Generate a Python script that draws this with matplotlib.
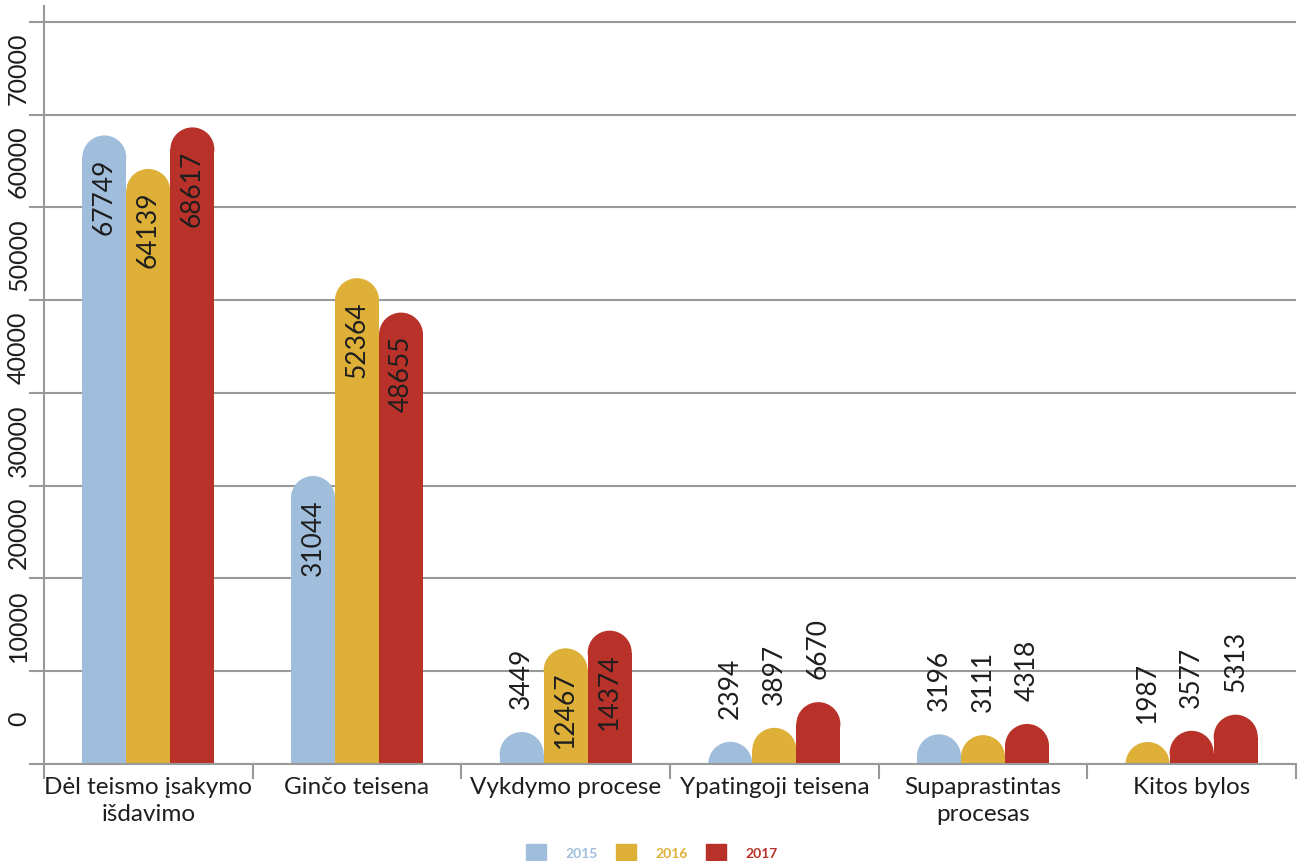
"""
Bylų skaičius pagal kategoriją, 2015-2017. Stulpeliai su suapvalintomis viršūnėmis.
"""
import matplotlib
matplotlib.use("Agg")
import matplotlib.pyplot as plt
from matplotlib.patches import Rectangle, Ellipse, Patch

plt.rcParams["font.family"] = ["Lato", "DejaVu Sans"]

BLUE, YELLOW, RED = "#A0BEDC", "#DEB038", "#B83229"
GRID = "#999999"
TXT = "#1e1e1e"

categories = ["Dėl teismo įsakymo\nišdavimo", "Ginčo teisena", "Vykdymo procese",
              "Ypatingoji teisena", "Supaprastintas\nprocesas", "Kitos bylos"]
years = ["2015", "2016", "2017"]
v2015 = [67749, 31044, 3449, 2394, 3196, 1987]
v2016 = [64139, 52364, 12467, 3897, 3111, 3577]
v2017 = [68617, 48655, 14374, 6670, 4318, 5313]
series = [v2015, v2016, v2017]
year_colors = [BLUE, YELLOW, RED]
yticks = list(range(0, 80001, 10000))

W, H = 1301, 862
fig = plt.figure(figsize=(W/100, H/100), dpi=100)
ax = fig.add_axes([44/W, (H-765)/H, (1296-44)/W, (765-7)/H])
ax.set_xlim(0, len(categories))
ax.set_ylim(0, 81700)

# --- grid + axes ---
ax.set_yticks(yticks)
ax.set_yticklabels([])
ax.set_yticks([t + 5000 for t in yticks[:-1]], minor=True)
ax.set_yticklabels([str(t) for t in yticks[:-1]], minor=True, rotation=90,
                   va="center", ha="right", fontsize=18, color=TXT)
ax.grid(axis="y", color=GRID, lw=1.5, zorder=0)
ax.set_axisbelow(True)
ax.tick_params(axis="y", which="major", length=11, width=1.5, color=GRID)
ax.tick_params(axis="y", which="minor", length=0, pad=10)

ax.set_xticks(range(len(categories) + 1))
ax.set_xticklabels([])
ax.set_xticks([i + 0.5 for i in range(len(categories))], minor=True)
ax.set_xticklabels(categories, minor=True, fontsize=17.5, color=TXT, linespacing=1.3)
ax.tick_params(axis="x", which="major", length=11, width=1.5, color=GRID)
ax.tick_params(axis="x", which="minor", length=0, pad=9)

for s in ["top", "right"]:
    ax.spines[s].set_visible(False)
for s in ["left", "bottom"]:
    ax.spines[s].set_color(GRID)
    ax.spines[s].set_linewidth(1.5)
ax.spines["left"].set_zorder(5)
ax.spines["bottom"].set_zorder(5)

# --- bars with rounded caps ---
bw = 0.211
fig.canvas.draw()
p0 = ax.transData.transform((0, 0))
p1 = ax.transData.transform((1, 10000))
px_x = p1[0] - p0[0]          # px per x unit
px_y = (p1[1] - p0[1]) / 10000  # px per y unit
r_px = bw * px_x / 2
ry = r_px / px_y

for j, vals in enumerate(series):
    for i, v in enumerate(vals):
        col = year_colors[j]
        # originale paskutinės grupės spalvos sumaišytos
        if i == len(categories) - 1 and j < 2:
            col = year_colors[j + 1]
        x = i + 0.5 + (j - 1) * bw
        base_h = max(v - ry, 0)
        ax.add_patch(Rectangle((x - bw/2, 0), bw, base_h, color=col, lw=0, zorder=2))
        ax.add_patch(Ellipse((x, base_h), bw, 2*ry, color=col, lw=0, zorder=2))
        if v > 10000:
            ax.annotate(str(v), (x, v), xytext=(0, -22*0.72), textcoords="offset points",
                        rotation=90, ha="center", va="top", fontsize=19, color=TXT, zorder=4)
        else:
            ax.annotate(str(v), (x, v), xytext=(0, 24*0.72), textcoords="offset points",
                        rotation=90, ha="center", va="bottom", fontsize=19, color=TXT, zorder=4)

# --- legend ---
handles = [Patch(color=c) for c in year_colors]
leg = fig.legend(handles, years, loc="center", bbox_to_anchor=(652/W, 1 - 853/H),
                 ncol=3, frameon=False, prop={"size": 10, "weight": "bold"},
                 handlelength=1.45, handleheight=1.45,
                 handletextpad=1.4, columnspacing=1.3)
for t, c in zip(leg.get_texts(), year_colors):
    t.set_color(c)

fig.savefig("out.png", dpi=100)
